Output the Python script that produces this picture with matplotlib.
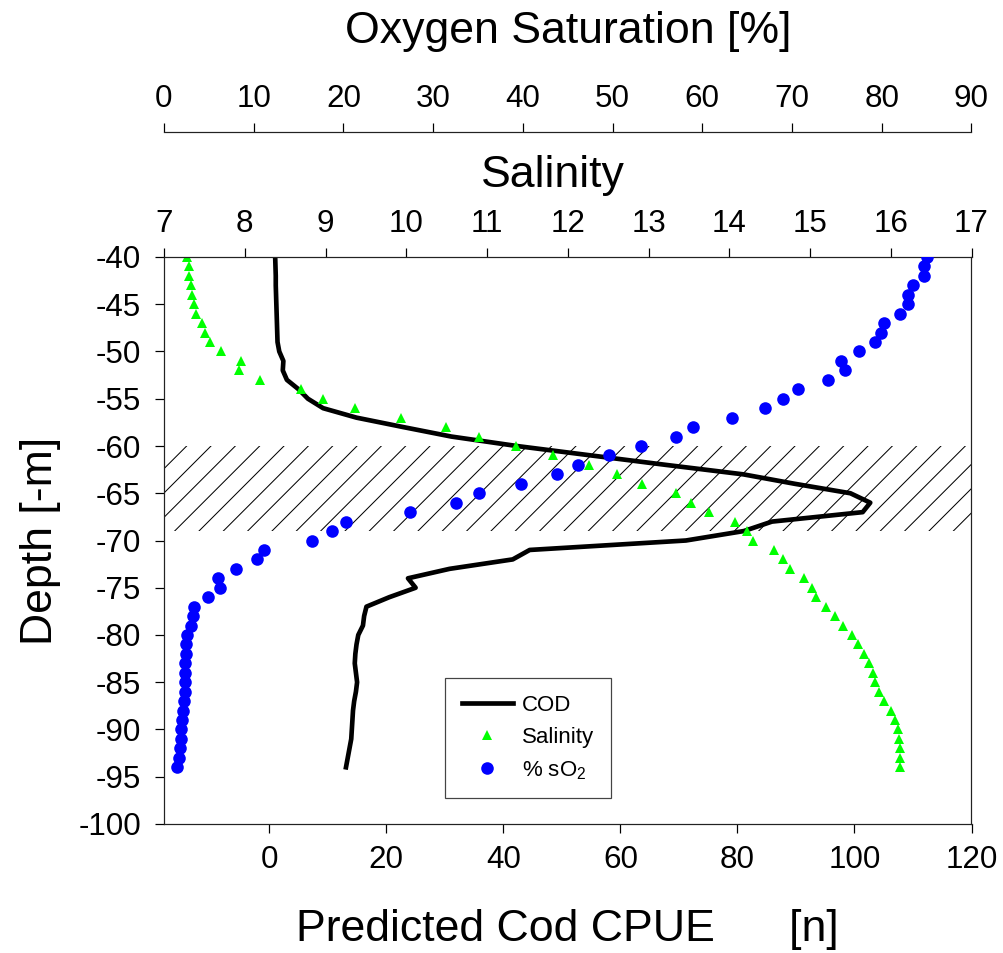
import numpy as np
import matplotlib.pyplot as plt

plt.rcParams['font.family'] = ['Liberation Sans', 'DejaVu Sans']
plt.rcParams['axes.unicode_minus'] = False
plt.rcParams['hatch.linewidth'] = 0.5

# depth of each sample [m], one per metre
depth = np.arange(-40, -95, -1)

# predicted cod CPUE [n]
cod = [1.0, 1.05, 1.1, 1.1, 1.15, 1.2, 1.25, 1.3, 1.35, 1.4,
       1.7, 2.4, 2.3, 3.0, 5.0, 6.6, 9.2, 14.9, 22.9, 31.1,
       42.3, 55.0, 67.8, 81.0, 89.8, 99.3, 102.7, 101.4, 85.9, 81.1,
       71.2, 44.5, 41.6, 30.8, 23.7, 25.0, 20.5, 16.6, 16.2, 16.0,
       15.2, 14.9, 14.7, 14.6, 14.8, 15.0, 14.8, 14.5, 14.3, 14.2,
       14.1, 14.0, 13.7, 13.4, 13.1]

# salinity
salinity = [7.29, 7.31, 7.31, 7.33, 7.35, 7.37, 7.40, 7.47, 7.51, 7.57,
            7.71, 7.95, 7.93, 8.19, 8.70, 8.97, 9.36, 9.94, 10.49, 10.90,
            11.36, 11.82, 12.26, 12.61, 12.92, 13.34, 13.53, 13.75, 14.07, 14.22,
            14.29, 14.56, 14.66, 14.75, 14.93, 15.02, 15.08, 15.20, 15.31, 15.41,
            15.52, 15.60, 15.67, 15.73, 15.78, 15.81, 15.86, 15.92, 16.00, 16.05,
            16.09, 16.10, 16.11, 16.11, 16.12]

# oxygen saturation [%]
oxygen = [85.0, 84.7, 84.7, 83.5, 82.9, 82.9, 82.0, 80.2, 79.9, 79.3,
          77.5, 75.5, 75.9, 74.0, 70.7, 69.0, 67.0, 63.3, 59.0, 57.1,
          53.2, 49.6, 46.1, 43.8, 39.8, 35.1, 32.5, 27.4, 20.3, 18.7,
          16.5, 11.1, 10.4, 8.0, 6.0, 6.2, 4.9, 3.3, 3.2, 3.05,
          2.6, 2.5, 2.4, 2.3, 2.3, 2.35, 2.3, 2.2, 2.1, 2.0,
          1.95, 1.9, 1.8, 1.7, 1.4]

# low oxygen layer
layer_top, layer_bottom = -60, -69

DPI = 146
fig = plt.figure(figsize=(1003 / DPI, 953 / DPI), dpi=DPI)
ax = fig.add_axes([164 / 1003, 129 / 953, 807.5 / 1003, 567 / 953])

spine_c = '#222222'
tick_kw = dict(direction='out', length=4.2, width=0.6, colors='black',
               labelsize=15.5)
title_fs = 22

ax.axhspan(layer_bottom, layer_top, facecolor='none', edgecolor='black',
           lw=0, hatch='//')
cod_line, = ax.plot(cod, depth, color='black', lw=2.3, label='COD')
ax.set_xlim(-18, 120)
ax.set_ylim(-100, -40)
ax.set_xticks(range(0, 121, 20))
ax.set_yticks(range(-100, -39, 5))
ax.tick_params(axis='x', pad=6, **tick_kw)
ax.tick_params(axis='y', pad=7, **tick_kw)
ax.spines['top'].set_visible(False)
for s in ['left', 'bottom', 'right']:
    ax.spines[s].set_color(spine_c)
    ax.spines[s].set_linewidth(0.6)
ax.set_xlabel('Predicted Cod CPUE      [n]', fontsize=title_fs)
ax.xaxis.set_label_coords(0.5, -0.150)
ax.set_ylabel('Depth [-m]', fontsize=title_fs)
ax.yaxis.set_label_coords(-0.128, 0.5)

# salinity on the top frame
ax_sal = ax.twiny()
sal_pts, = ax_sal.plot(salinity, depth, '^', color='#00ff00', ms=5.0,
                       mec='none', label='Salinity')
ax_sal.set_xlim(7, 17)
ax_sal.set_xticks(range(7, 18))
ax_sal.tick_params(axis='x', pad=4.5, **tick_kw)
for s in ['left', 'bottom', 'right']:
    ax_sal.spines[s].set_visible(False)
ax_sal.spines['top'].set_color(spine_c)
ax_sal.spines['top'].set_linewidth(0.6)
ax_sal.set_xlabel('Salinity', fontsize=title_fs)
ax_sal.xaxis.set_label_coords(0.482, 1.124)

# oxygen saturation on a detached axis above
ax_ox = ax.twiny()
ox_pts, = ax_ox.plot(oxygen, depth, 'o', color='#0000ff', ms=6.2,
                     mec='none', label='% sO$_\\mathregular{2}$')
ax_ox.set_xlim(0, 90)
ax_ox.set_xticks(range(0, 91, 10))
ax_ox.tick_params(axis='x', pad=4.5, **tick_kw)
for s in ['left', 'bottom', 'right']:
    ax_ox.spines[s].set_visible(False)
ax_ox.spines['top'].set_position(('outward', 61.6))
ax_ox.spines['top'].set_color(spine_c)
ax_ox.spines['top'].set_linewidth(0.6)
ax_ox.set_xlabel('Oxygen Saturation [%]', fontsize=title_fs)
ax_ox.xaxis.set_label_coords(0.5, 1.378)

leg = ax_ox.legend([cod_line, sal_pts, ox_pts],
                   [cod_line.get_label(), sal_pts.get_label(), ox_pts.get_label()],
                   loc='upper left', bbox_to_anchor=(0.348, 0.2575),
                   bbox_transform=ax.transAxes, borderaxespad=0,
                   fancybox=False, framealpha=1, edgecolor='#444444',
                   fontsize=11, handlelength=2.3, handletextpad=0.4,
                   borderpad=0.75, labelspacing=0.5)
leg.get_frame().set_linewidth(0.6)

fig.savefig('out.png', dpi=DPI)
